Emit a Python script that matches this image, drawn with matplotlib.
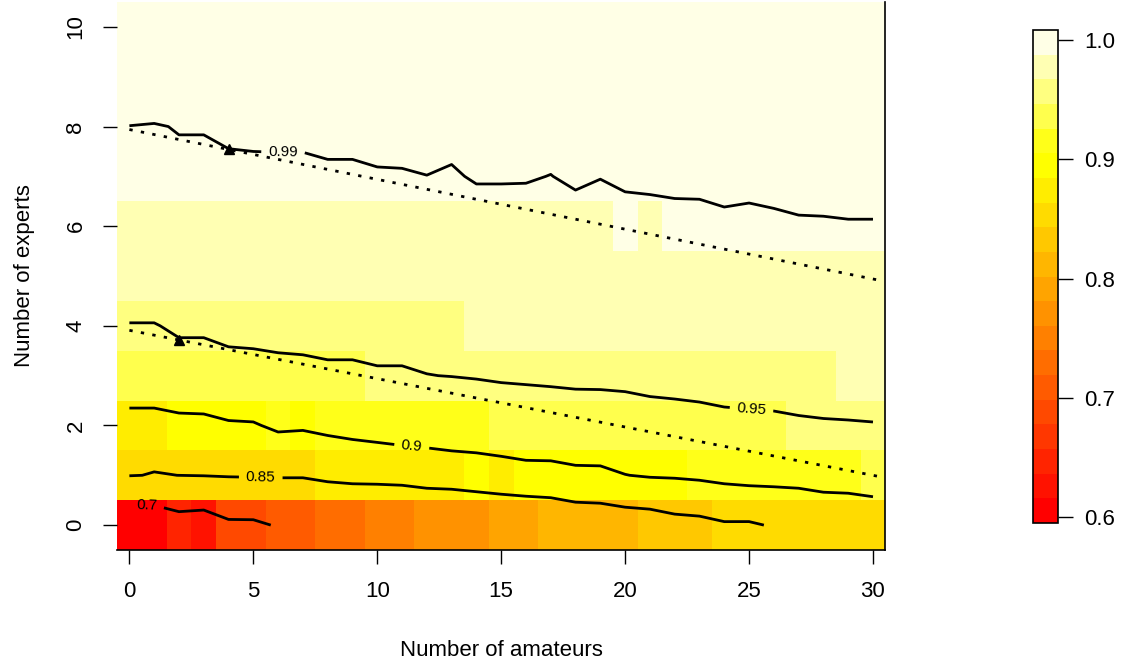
import numpy as np
import matplotlib
matplotlib.use('Agg')
import matplotlib.pyplot as plt
from matplotlib.colors import ListedColormap, BoundaryNorm, hsv_to_rgb

plt.rcParams['font.family'] = ['Liberation Sans', 'DejaVu Sans']

amateurs = np.arange(31)
experts = np.arange(11)

# probability of a correct group decision, one list per number of experts,
# indexed by number of amateurs 0..30
exp0 = [0.600, 0.603, 0.6445, 0.634, 0.680, 0.681, 0.708, 0.712, 0.728, 0.731,
        0.745, 0.750, 0.765, 0.768, 0.780, 0.7945, 0.7988, 0.8044, 0.8142, 0.8168,
        0.8223, 0.825, 0.8347, 0.8375, 0.8454, 0.8451, 0.8533, 0.855, 0.858, 0.860, 0.862]
exp1 = [0.8525, 0.8477, 0.8502, 0.8522, 0.8553, 0.857, 0.8575, 0.8573, 0.8682, 0.8744,
        0.873, 0.875, 0.8799, 0.8819, 0.8845, 0.884, 0.8871, 0.8873, 0.892, 0.8923,
        0.8993, 0.9031, 0.9041, 0.9069, 0.9112, 0.9145, 0.914, 0.9158, 0.9216, 0.9225, 0.9287]
exp2 = [0.8812, 0.8812, 0.8887, 0.8898, 0.8957, 0.8969, 0.9064, 0.9047, 0.908, 0.910,
        0.9139, 0.9167, 0.9164, 0.9188, 0.9189, 0.926, 0.930, 0.931, 0.932, 0.933,
        0.935, 0.937, 0.938, 0.939, 0.941, 0.942, 0.944, 0.947, 0.948, 0.947, 0.948]
exp3 = [0.935, 0.935, 0.934, 0.934, 0.939, 0.9406, 0.9415, 0.9428, 0.9444, 0.9444,
        0.9468, 0.9468, 0.9495, 0.9506, 0.9523, 0.9539, 0.9544, 0.9554, 0.9567, 0.9566,
        0.9571, 0.9594, 0.9606, 0.9624, 0.9653, 0.9662, 0.9647, 0.962, 0.9623, 0.9743, 0.9766]
exp4 = [0.9484, 0.9484, 0.955, 0.955, 0.958, 0.958, 0.960, 0.960, 0.962, 0.962,
        0.963, 0.963, 0.963, 0.964, 0.970, 0.971, 0.971, 0.972, 0.972, 0.973,
        0.973, 0.974, 0.974, 0.975, 0.975, 0.976, 0.976, 0.976, 0.977, 0.978, 0.979]
exp5 = [0.975, 0.975, 0.976, 0.976, 0.977, 0.977, 0.977, 0.978, 0.978, 0.978,
        0.979, 0.979, 0.979, 0.979, 0.980, 0.980, 0.980, 0.981, 0.981, 0.981,
        0.982, 0.982, 0.982, 0.983, 0.983, 0.983, 0.984, 0.984, 0.984, 0.985, 0.985]
exp6 = [0.984, 0.984, 0.985, 0.985, 0.985, 0.985, 0.985, 0.985, 0.985, 0.985,
        0.985, 0.985, 0.985, 0.985, 0.985, 0.985, 0.985, 0.986, 0.985, 0.985,
        0.988, 0.986, 0.988, 0.988, 0.9885, 0.988, 0.9885, 0.989, 0.989, 0.9893, 0.9893]
exp7 = [0.9884, 0.9884, 0.9885, 0.9885, 0.9885, 0.9885, 0.9885, 0.9885, 0.9885, 0.9885,
        0.9893, 0.9895, 0.9899, 0.9890, 0.9909, 0.9909, 0.9908, 0.9898, 0.9919, 0.9903,
        0.9909, 0.9923, 0.9916, 0.9917, 0.9924, 0.9923, 0.9927, 0.9935, 0.9940, 0.9943, 0.9943]
exp8 = [0.9899, 0.9896, 0.9903, 0.9903, 0.9912, 0.9915, 0.9916, 0.9916, 0.9929, 0.9929,
        0.9930, 0.9926, 0.9940, 0.9932, 0.9940, 0.9940, 0.9940, 0.9948, 0.9950, 0.9950,
        0.9950, 0.9955, 0.9955, 0.9955, 0.9960, 0.9960, 0.9960, 0.9965, 0.9965, 0.9965, 0.9970]
exp9 = [0.9960, 0.9960, 0.9962, 0.9962, 0.9964, 0.9964, 0.9965, 0.9965, 0.9967, 0.9967,
        0.9968, 0.9968, 0.9970, 0.9970, 0.9971, 0.9971, 0.9972, 0.9972, 0.9973, 0.9973,
        0.9974, 0.9974, 0.9975, 0.9975, 0.9976, 0.9976, 0.9977, 0.9977, 0.9978, 0.9978, 0.9979]
exp10 = [0.9980, 0.9980, 0.9981, 0.9981, 0.9982, 0.9982, 0.9982, 0.9983, 0.9983, 0.9983,
         0.9984, 0.9984, 0.9984, 0.9985, 0.9985, 0.9985, 0.9986, 0.9986, 0.9986, 0.9987,
         0.9987, 0.9987, 0.9988, 0.9988, 0.9988, 0.9989, 0.9989, 0.9989, 0.9990, 0.9990, 0.9990]

z_range = (0.595, 1.0084)
levels = [0.7, 0.85, 0.9, 0.95, 0.99]
label_spots = [(0.7, 0.38), (5.3, 0.96), (11.4, 1.62), (25.1, 2.33), (6.2, 7.5)]

# rule-of-thumb lines (end points) and the points marked on them
rule_x = [0, 30.3]
rule_hi = [7.94, 4.91]
rule_lo = [3.91, 0.97]
mark_x = [4, 2]
mark_y = [7.54, 3.72]


def heat_colors(n):
    j = n // 4
    i = n - j
    cols = [hsv_to_rgb((h, 1, 1)) for h in np.linspace(0, 1 / 6, i)]
    for s in np.linspace(1 - 1 / (2 * j), 1 / (2 * j), j):
        cols.append(hsv_to_rgb((1 / 6, s, 1)))
    return cols


Z = np.array([exp0, exp1, exp2, exp3, exp4, exp5, exp6, exp7, exp8, exp9, exp10])

cmap = ListedColormap(heat_colors(20))
norm = BoundaryNorm(np.linspace(z_range[0], z_range[1], 21), cmap.N)

fig = plt.figure(figsize=(11.26, 6.65), dpi=100)
ax = fig.add_axes([0.1039, 0.1729, 0.6824, 0.8241])
cax = fig.add_axes([1033 / 1126, 1 - 523 / 665, 25 / 1126, 493 / 665])

mesh = ax.pcolormesh(amateurs, experts, Z, cmap=cmap, norm=norm, shading='nearest')

cs = ax.contour(amateurs, experts, Z, levels=levels, colors='black', linewidths=2)
ax.clabel(cs, fontsize=11, fmt=lambda v: '{:g}'.format(v), manual=label_spots,
          inline=True, inline_spacing=7)

ax.plot(rule_x, rule_hi, color='black', lw=2, linestyle=(0, (1.2, 3)))
ax.plot(rule_x, rule_lo, color='black', lw=2, linestyle=(0, (1.2, 3)))
ax.plot(mark_x, mark_y, linestyle='none', marker='^', color='black', markersize=7)

ax.set_xlim(-0.5, 30.5)
ax.set_ylim(-0.5, 10.5)
ax.spines['top'].set_visible(False)
ax.spines['left'].set_visible(False)
ax.spines['bottom'].set_linewidth(1.2)
ax.spines['right'].set_linewidth(1.2)

ax.set_xticks(np.arange(0, 31, 5))
ax.set_yticks(np.arange(0, 11, 2))
ax.tick_params(axis='both', length=10, width=1, labelsize=16, pad=12)
ax.set_yticklabels([str(v) for v in np.arange(0, 11, 2)], rotation=90, va='center')

ax.set_xlabel('Number of amateurs', fontsize=16, labelpad=28)
ax.set_ylabel('Number of experts', fontsize=16, labelpad=22)

cb = fig.colorbar(mesh, cax=cax)
cb.set_ticks([0.6, 0.7, 0.8, 0.9, 1.0])
cb.set_ticklabels(['0.6', '0.7', '0.8', '0.9', '1.0'])
cb.ax.minorticks_off()
cb.ax.tick_params(length=11, width=1, labelsize=16, pad=8)
cb.outline.set_linewidth(1.2)

plt.savefig('out.png', dpi=100)
